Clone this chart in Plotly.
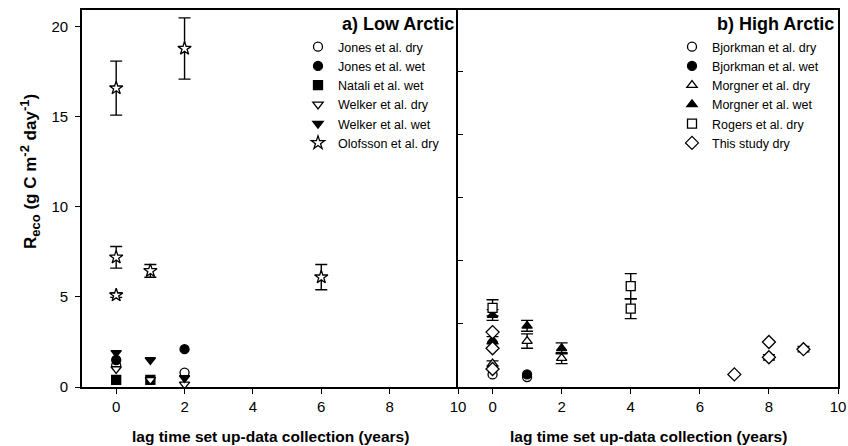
import plotly.graph_objects as go

# ---- Low Arctic studies: lag time (years), Reco (g C m-2 day-1), error ----
jones_dry_x = [0, 2]
jones_dry_y = [1.2, 0.8]
jones_wet_x = [0, 2]
jones_wet_y = [1.5, 2.1]
natali_wet_x = [0, 1]
natali_wet_y = [0.4, 0.4]
welker_dry_x = [0, 1, 2]
welker_dry_y = [1.0, 0.4, 0.15]
welker_wet_x = [0, 1, 2]
welker_wet_y = [1.9, 1.5, 0.5]
olofsson_dry_x = [0, 0, 0, 1, 2, 6]
olofsson_dry_y = [16.6, 7.2, 5.1, 6.45, 18.8, 6.1]
olofsson_dry_err = [1.5, 0.6, 0.12, 0.35, 1.7, 0.7]

# ---- High Arctic studies ----
bjorkman_dry_x = [0, 1]
bjorkman_dry_y = [0.7, 0.55]
bjorkman_wet_x = [1]
bjorkman_wet_y = [0.7]
morgner_dry_x = [0, 1, 2]
morgner_dry_y = [1.3, 2.55, 1.6]
morgner_dry_err = [0.15, 0.4, 0.3]
morgner_wet_x = [0, 0, 1, 2]
morgner_wet_y = [4.0, 2.6, 3.4, 2.15]
morgner_wet_err = [0.3, 0.2, 0.3, 0.3]
rogers_dry_x = [0, 4, 4]
rogers_dry_y = [4.4, 5.6, 4.35]
rogers_dry_err = [0.45, 0.7, 0.55]
this_study_x = [0, 0, 0, 7, 8, 8, 9]
this_study_y = [3.05, 2.15, 1.0, 0.7, 2.5, 1.65, 2.1]
this_study_err = [0, 0, 0, 0, 0, 0.15, 0.15]

x_ticks = [0, 2, 4, 6, 8, 10]
y_ticks_left = [0, 5, 10, 15, 20]
y_ticks_right = [3.5, 7, 10.5, 14, 17.5]

FONT = "Liberation Sans, Arial, sans-serif"
BLACK = "black"
WHITE = "white"

fig = go.Figure()


def add_series(name, xs, ys, symbol, filled, size, axis, legend, err=None):
    marker = dict(
        symbol=symbol,
        size=size,
        color=BLACK if filled else WHITE,
        line=dict(color=BLACK, width=1.3),
    )
    kwargs = {}
    if err is not None:
        kwargs["error_y"] = dict(type="data", array=err, visible=True,
                                 color=BLACK, thickness=1.4, width=6)
    fig.add_trace(go.Scatter(
        x=xs, y=ys, mode="markers", name=name, marker=marker,
        xaxis=axis[0], yaxis=axis[1], legend=legend, **kwargs))


left = ("x", "y")
right = ("x2", "y2")

add_series("Jones et al. dry", jones_dry_x, jones_dry_y, "circle", False, 9, left, "legend")
add_series("Jones et al. wet", jones_wet_x, jones_wet_y, "circle", True, 9, left, "legend")
add_series("Natali et al. wet", natali_wet_x, natali_wet_y, "square", True, 9, left, "legend")
add_series("Welker et al. dry", welker_dry_x, welker_dry_y, "triangle-down", False, 9, left, "legend")
add_series("Welker et al. wet", welker_wet_x, welker_wet_y, "triangle-down", True, 9, left, "legend")
add_series("Olofsson et al. dry", olofsson_dry_x, olofsson_dry_y, "star", False, 10, left, "legend",
           olofsson_dry_err)

add_series("Bjorkman et al. dry", bjorkman_dry_x, bjorkman_dry_y, "circle", False, 9, right, "legend2")
add_series("Bjorkman et al. wet", bjorkman_wet_x, bjorkman_wet_y, "circle", True, 9, right, "legend2")
add_series("Morgner et al. dry", morgner_dry_x, morgner_dry_y, "triangle-up", False, 9, right, "legend2",
           morgner_dry_err)
add_series("Morgner et al. wet", morgner_wet_x, morgner_wet_y, "triangle-up", True, 9, right, "legend2",
           morgner_wet_err)
add_series("Rogers et al. dry", rogers_dry_x, rogers_dry_y, "square", False, 9, right, "legend2",
           rogers_dry_err)
add_series("This study dry", this_study_x, this_study_y, "diamond", False, 10, right, "legend2",
           this_study_err)

x_title = "<b>lag time set up-data collection (years)</b>"
y_title = ("<b>R<sub><span style='font-size:13px'>eco</span></sub> (g C m"
           "<sup><span style='font-size:13px'>-2</span></sup> day"
           "<sup><span style='font-size:13px'>-1</span></sup>)</b>")
split = (458 - 82) / 756

axis_common = dict(
    showgrid=False, zeroline=False, showline=True, linecolor=BLACK, linewidth=1.6,
    tickcolor=BLACK, tickwidth=1.3, ticklen=5,
    tickfont=dict(family=FONT, size=15, color=BLACK),
)

legend_top = 1 - (32 - 10) / 377
x_title_y = -(436 - 387) / 377

fig.update_layout(
    width=848, height=446,
    margin=dict(l=82, r=10, t=10, b=59),
    paper_bgcolor=WHITE, plot_bgcolor=WHITE,
    font=dict(family=FONT, color=BLACK),
    xaxis=dict(domain=[0, split], range=[-1, 10], tickvals=x_ticks, ticks="outside",
               anchor="y", mirror=True, automargin=False, **axis_common),
    xaxis2=dict(domain=[split, 1], range=[-1, 10], tickvals=x_ticks, ticks="outside",
                anchor="y2", mirror=True, automargin=False, **axis_common),
    yaxis=dict(range=[0, 20.94], tickvals=y_ticks_left, ticks="outside", anchor="x",
               mirror=False, ticklabelstandoff=4, automargin=False, **axis_common),
    yaxis2=dict(range=[0, 20.94], tickvals=y_ticks_right, ticks="inside", anchor="x2",
                mirror=True, showticklabels=False, automargin=False, **axis_common),
    legend=dict(x=(298 - 82) / 756, xanchor="left", y=legend_top, yanchor="top",
                bgcolor="rgba(0,0,0,0)", font=dict(family=FONT, size=12.5, color=BLACK),
                itemclick=False),
    legend2=dict(x=(672 - 82) / 756, xanchor="left", y=legend_top, yanchor="top",
                 bgcolor="rgba(0,0,0,0)", font=dict(family=FONT, size=12.5, color=BLACK),
                 itemclick=False),
    annotations=[
        dict(text="<b>a) Low Arctic</b>", xref="x domain", yref="y domain", x=0.995, y=0.995,
             xanchor="right", yanchor="top", showarrow=False,
             font=dict(family=FONT, size=18, color=BLACK)),
        dict(text="<b>b) High Arctic</b>", xref="x2 domain", yref="y2 domain", x=0.995, y=0.995,
             xanchor="right", yanchor="top", showarrow=False,
             font=dict(family=FONT, size=18, color=BLACK)),
        dict(text=x_title, xref="x domain", yref="paper", x=0.5, y=x_title_y,
             xanchor="center", yanchor="middle", showarrow=False,
             font=dict(family=FONT, size=15.5, color=BLACK)),
        dict(text=x_title, xref="x2 domain", yref="paper", x=0.5, y=x_title_y,
             xanchor="center", yanchor="middle", showarrow=False,
             font=dict(family=FONT, size=15.5, color=BLACK)),
        dict(text=y_title, xref="paper", yref="paper", x=(30 - 82) / 756,
             y=1 - (172 - 10) / 377, xanchor="center", yanchor="middle", textangle=-90,
             showarrow=False, font=dict(family=FONT, size=17, color=BLACK)),
    ],
)

fig.write_html("out.html")
